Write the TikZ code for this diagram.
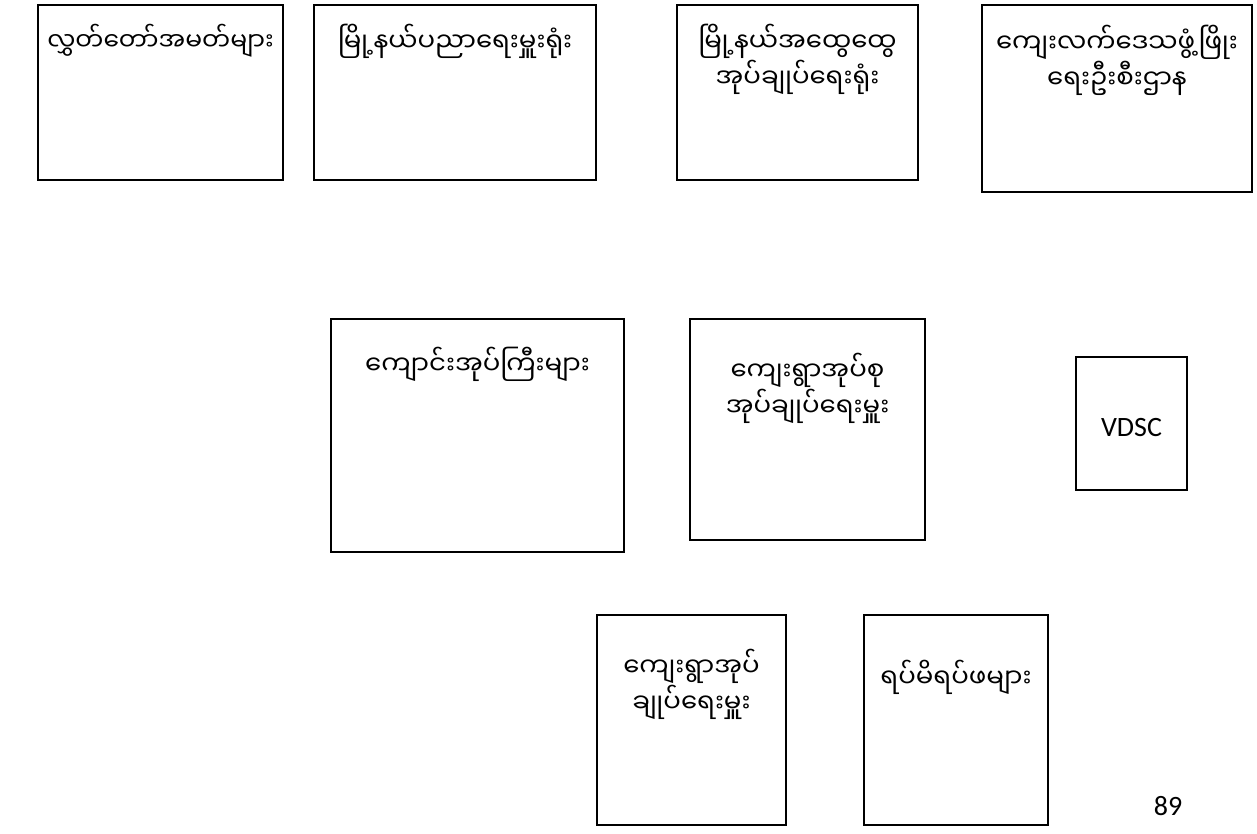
\documentclass[tikz,border=0pt]{standalone}
\usepackage{fontspec}
\setmainfont{Carlito}
\newfontfamily\mmfont[Script=Myanmar]{Noto Sans Myanmar UI}
\usetikzlibrary{positioning}

\tikzset{
  box/.style={draw, line width=0.9pt, inner sep=0pt},
  mmtext/.style={font=\mmfont\fontsize{13}{18}\selectfont, align=center, inner sep=0pt},
  latin/.style={font=\fontsize{14}{16}\selectfont, inner sep=0pt},
}

\begin{document}
\begin{tikzpicture}[x=0.5pt, y=-0.5pt]
\useasboundingbox (0,0) rectangle (1257,834);

% top row
\node[box, minimum width=122.5pt, minimum height=87.5pt] (hluttaw) at (160.5,92.5) {};
\node[box, minimum width=141pt, minimum height=87.5pt] (eduoffice) at (455,92.5) {};
\node[box, minimum width=120.5pt, minimum height=87.5pt] (gad) at (797.5,92.5) {};
\node[box, minimum width=135pt, minimum height=93.5pt] (drd) at (1117,98.5) {};

\node[mmtext, font=\mmfont\fontsize{12.5}{18}\selectfont, below=18.5pt of hluttaw.north, anchor=center] (hluttawtxt) {လွှတ်တော်အမတ်များ};
\node[mmtext, below=18.5pt of eduoffice.north, anchor=center] (eduofficetxt) {မြို့နယ်ပညာရေးမှူးရုံး};
\node[mmtext, below=27.5pt of gad.north, anchor=center] (gadtxt) {မြို့နယ်အထွေထွေ\\အုပ်ချုပ်ရေးရုံး};
\node[mmtext, below=28pt of drd.north, anchor=center] (drdtxt) {ကျေးလက်ဒေသဖွံ့ဖြိုး\\ရေးဦးစီးဌာန};

% middle row
\node[box, minimum width=146.5pt, minimum height=116.5pt] (heads) at (477.5,435.5) {};
\node[box, minimum width=117.5pt, minimum height=110.5pt] (tract) at (807.5,429.5) {};
\node[box, minimum width=55.5pt, minimum height=66.5pt] (vdsc) at (1131.5,423.5) {};

\node[mmtext, below=23pt of heads.north, anchor=center] (headstxt) {ကျောင်းအုပ်ကြီးများ};
\node[mmtext, below=35pt of tract.north, anchor=center] (tracttxt) {ကျေးရွာအုပ်စု\\အုပ်ချုပ်ရေးမှူး};
\node[latin, yshift=-2pt] (vdsctxt) at (vdsc.center) {VDSC};

% bottom row
\node[box, minimum width=94.5pt, minimum height=105pt] (village) at (691.5,720) {};
\node[box, minimum width=92pt, minimum height=105pt] (elders) at (956,720) {};

\node[mmtext, below=35pt of village.north, anchor=center] (villagetxt) {ကျေးရွာအုပ်\\ချုပ်ရေးမှူး};
\node[mmtext, below=31.5pt of elders.north, anchor=center] (elderstxt) {ရပ်မိရပ်ဖများ};

\node[latin] (pagenum) at (1168,806) {89};
\end{tikzpicture}
\end{document}
